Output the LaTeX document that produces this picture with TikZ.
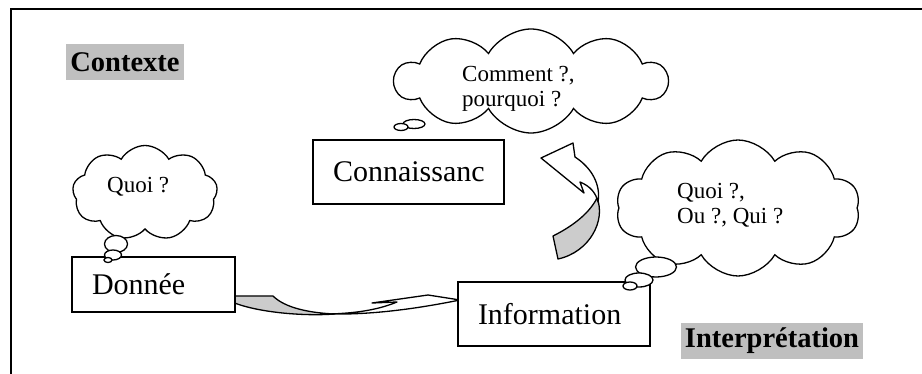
\documentclass[tikz,border=0pt]{standalone}
\usepackage{fontspec}
\setmainfont{Liberation Serif}
\usetikzlibrary{positioning, shapes.symbols, shapes.geometric}

\begin{document}
\begin{tikzpicture}[x=1pt, y=-1pt]
\tikzstyle{box}=[draw=black, line width=1.5pt, fill=white, inner xsep=20pt, inner ysep=0pt, align=left, font=\fontsize{30}{34}\selectfont]
\tikzstyle{pensee}=[cloud, draw=black, line width=1.3pt, fill=white, cloud puffs=10, cloud puff arc=120, inner sep=0pt]
\tikzstyle{texte}=[anchor=west, inner sep=0pt, align=left, font=\fontsize{23}{25}\selectfont]
\tikzstyle{bulle}=[ellipse, draw=black, line width=1.3pt, fill=white, inner sep=0pt]
\tikzstyle{etiq}=[fill=black!25, inner xsep=4pt, minimum height=36pt, font=\bfseries\fontsize{28.5}{30}\selectfont]
\tikzstyle{ruban}=[draw=black, line width=1.3pt, line join=round]

\useasboundingbox (0,0) rectangle (922,374);
\draw[line width=1.5pt] (11,374) -- (11,9) -- (922,9);

% etiquettes
\node[etiq] (ctx) at (125,62) {Contexte};
\node[etiq] (interp) at (772,341) {Interprétation};

% nuages
\node[pensee, cloud puffs=9, minimum width=145pt, minimum height=95pt] (nq) at (145,193) {};
\node[pensee, minimum width=272pt, minimum height=104pt] (nc) at (531,81) {};
\node[pensee, minimum width=244pt, minimum height=136pt] (ni) at (738,208) {};
\node[texte] (tq) at (107,187) {Quoi ?};
\node[texte] (tc) at (462,89) {Comment ?,\\pourquoi ?};
\node[texte] (ti) at (677,205) {Quoi ?,\\Ou ?, Qui ?};

% fleches courbes
\path[ruban, fill=black!20] (222,296) -- (273,296) .. controls (285,308) and (310,313) .. (335,314)
  .. controls (295,317) and (238,310) .. (222,296) -- cycle;
\path[ruban, fill=white] (330,314) .. controls (380,315) and (430,306) .. (460,300) -- (428,295) -- (372,303) -- (397,302)
  .. controls (380,309) and (360,313) .. (330,314) -- cycle;
\path[ruban, fill=black!20] (553,236) .. controls (575,225) and (590,212) .. (597,198)
  .. controls (606,220) and (590,252) .. (558,259) -- cycle;
\path[ruban, fill=white] (541,158) -- (573,143) -- (575,157) .. controls (592,168) and (601,185) .. (598,202)
  .. controls (596,193) and (590,186) .. (580,182) -- (584,193) -- cycle;

% boites
\node[box, text width=123pt, minimum height=55pt] (donnee) at (153.5,284.5) {Donnée};
\node[box, text width=151pt, minimum height=64pt] (conn) at (408.5,172) {Connaissanc};
\node[box, text width=152pt, minimum height=64pt] (info) at (554,314) {Information};

% bulles
\node[bulle, minimum width=23pt, minimum height=17pt] (b1) at (116,244) {};
\node[bulle, minimum width=17pt, minimum height=10pt] (b2) at (113,255) {};
\node[bulle, minimum width=8pt, minimum height=5pt] (b3) at (108,260) {};
\node[bulle, minimum width=22pt, minimum height=9pt] (b4) at (414,124) {};
\node[bulle, minimum width=14pt, minimum height=7pt] (b5) at (401,127) {};
\node[bulle, minimum width=41pt, minimum height=20pt] (b6) at (656,267) {};
\node[bulle, minimum width=28pt, minimum height=14pt] (b7) at (639,280) {};
\node[bulle, minimum width=14pt, minimum height=8pt] (b8) at (630,286) {};
\end{tikzpicture}
\end{document}
